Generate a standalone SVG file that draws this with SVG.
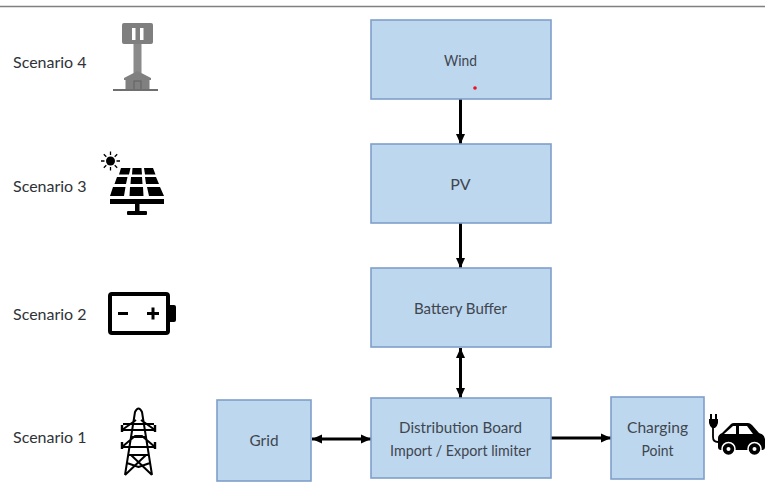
<svg xmlns="http://www.w3.org/2000/svg" width="765" height="492" viewBox="0 0 765 492">
<style>
.box{fill:#bdd7ee;stroke:#7f9fcb;stroke-width:1.6}
.t{font-family:Lato,"Liberation Sans",sans-serif;font-size:16px;fill:#3f464e;text-anchor:middle}
.s{font-family:Lato,"Liberation Sans",sans-serif;font-size:16px;fill:#2f3338}
.c{fill:none;stroke:#000;stroke-width:3}
</style>
<defs>
<marker id="a" markerUnits="userSpaceOnUse" markerWidth="11" markerHeight="11" refX="10" refY="5" orient="auto-start-reverse"><path d="M0 0.500L10 5L0 9.500z" fill="#000"/></marker>
</defs>
<rect width="765" height="492" fill="#fff"/>
<path d="M0 6.500H765" stroke="#808080" stroke-width="1.300"/>
<g id="connectors">
<path class="c" marker-end="url(#a)" d="M460.500 99V144"/>
<path class="c" marker-end="url(#a)" d="M460.500 223V268"/>
<path class="c" marker-start="url(#a)" marker-end="url(#a)" d="M460.500 348V398"/>
<path class="c" marker-start="url(#a)" marker-end="url(#a)" d="M312 439H371"/>
<path class="c" marker-end="url(#a)" d="M551 438H611"/>
</g>
<g id="wind"><rect class="box" x="371" y="20" width="180" height="79"/><text class="t" x="460.500" y="66" textLength="33" lengthAdjust="spacingAndGlyphs">Wind</text><circle cx="475" cy="88" r="1.800" fill="#f01020"/></g>
<g id="pv"><rect class="box" x="371" y="144" width="180" height="79"/><text class="t" x="460.500" y="190">PV</text></g>
<g id="battery-buffer"><rect class="box" x="371" y="268" width="180" height="79"/><text class="t" x="460.500" y="314" textLength="93" lengthAdjust="spacingAndGlyphs">Battery Buffer</text></g>
<g id="distribution-board"><rect class="box" x="371" y="398" width="180" height="80"/><text class="t" x="460.500" y="433" textLength="123" lengthAdjust="spacingAndGlyphs">Distribution Board</text><text class="t" x="460.500" y="456" textLength="141" lengthAdjust="spacingAndGlyphs">Import / Export limiter</text></g>
<g id="grid"><rect class="box" x="217" y="400" width="94" height="81"/><text class="t" x="264" y="446" textLength="29" lengthAdjust="spacingAndGlyphs">Grid</text></g>
<g id="charging-point"><rect class="box" x="611" y="397" width="93" height="82"/><text class="t" x="657.500" y="433" textLength="61" lengthAdjust="spacingAndGlyphs">Charging</text><text class="t" x="657.500" y="456" textLength="32" lengthAdjust="spacingAndGlyphs">Point</text></g>
<g id="scenario-4"><text class="s" x="13" y="68">Scenario 4</text>
<rect x="122" y="23" width="31" height="21" rx="2" fill="#7f7f7f"/><rect x="132" y="28" width="3.500" height="12" fill="#fff"/><rect x="140" y="28" width="3.500" height="12" fill="#fff"/>
<rect x="133.500" y="44" width="8" height="29" fill="#8a8a8a"/>
<path d="M124 78L137.500 71L151 78V80H149.500V90H125.500V80H124z" fill="#808080"/><rect x="134" y="81" width="7" height="9" fill="none" stroke="#606060" stroke-width="1"/>
<rect x="113" y="89" width="45" height="2" fill="#6f6f6f"/></g>
<g id="scenario-3"><text class="s" x="13" y="192">Scenario 3</text>
<circle cx="110.500" cy="161" r="4.500" fill="#000"/>
<path d="M110.500 151.500V155M110.500 167V170.500M101 161H104.500M116.500 161H120M103.800 154.300L106.300 156.800M114.700 165.200L117.200 167.700M103.800 167.700L106.300 165.200M114.700 156.800L117.200 154.300" stroke="#000" stroke-width="1.300"/>
<path fill="#000" d="M121 168H130.500L129 174.500H119zM132.500 168H141.500L142 174.500H132zM144 168H153L155.500 174.500H145zM117 177H127.500L126 184H114.500zM131 177H142L142.500 184H130.500zM145 177H156L159 184H146zM113 187H125.500L124 196H110zM130 187H143L143.500 196H129.500zM147 187H160L164 196H149zM110 199H164V204H110z"/>
<rect x="135" y="203" width="4.500" height="9" fill="#000"/><rect x="127" y="211" width="20" height="4" rx="1" fill="#000"/></g>
<g id="scenario-2"><text class="s" x="13" y="320">Scenario 2</text>
<rect x="110" y="294" width="58" height="39" rx="2" fill="#fff" stroke="#000" stroke-width="4"/>
<path d="M169 305H174Q176 305 176 307V320Q176 322 174 322H169z" fill="#000"/>
<rect x="118" y="312" width="10" height="3" fill="#000"/><path d="M147 312H151.500V307.500H154.500V312H159V315H154.500V319.500H151.500V315H147z" fill="#000"/></g>
<g id="scenario-1"><text class="s" x="13" y="443">Scenario 1</text>
<path fill="none" stroke="#000" stroke-width="2" stroke-linejoin="round" d="M125 475L135 412Q138.500 405 142 412L152 475M123 424H154M122 430L136 420M155 430L141 420M122 430H155M122 447L135 436H142L155 447H122M131 437H146M129 455H148M125 475L146 455M152 475L131 455M127 463L138.500 467L150 463"/>
<path d="M122 425V432M155 425V432M122 442V449M155 442V449" stroke="#000" stroke-width="2.400"/></g>
<g id="ev-icon">
<path d="M713 428V437Q713 442 718 442H722" fill="none" stroke="#000" stroke-width="1.800"/>
<path d="M710 414V419H709V423Q710 427 712 428H715Q717 427 718 423V419H717V414H715V419H712V414z" fill="#000"/>
<path fill="#000" d="M718 447V438Q718 435 722 433L731 424Q732 423 734 423H748Q750 423 752 425L759 433Q765 435 765 439V447Q765 450 762 450H721Q718 450 718 447z"/>
<path fill="#fff" d="M724 434L733 426H736V434zM739 426H747L753 434H739z"/>
<circle cx="728.500" cy="449" r="6.500" fill="#000" stroke="#fff" stroke-width="1.500"/><circle cx="728.500" cy="449" r="2" fill="#fff"/>
<circle cx="754.500" cy="449" r="6.500" fill="#000" stroke="#fff" stroke-width="1.500"/><circle cx="754.500" cy="449" r="2" fill="#fff"/>
</g>
</svg>
